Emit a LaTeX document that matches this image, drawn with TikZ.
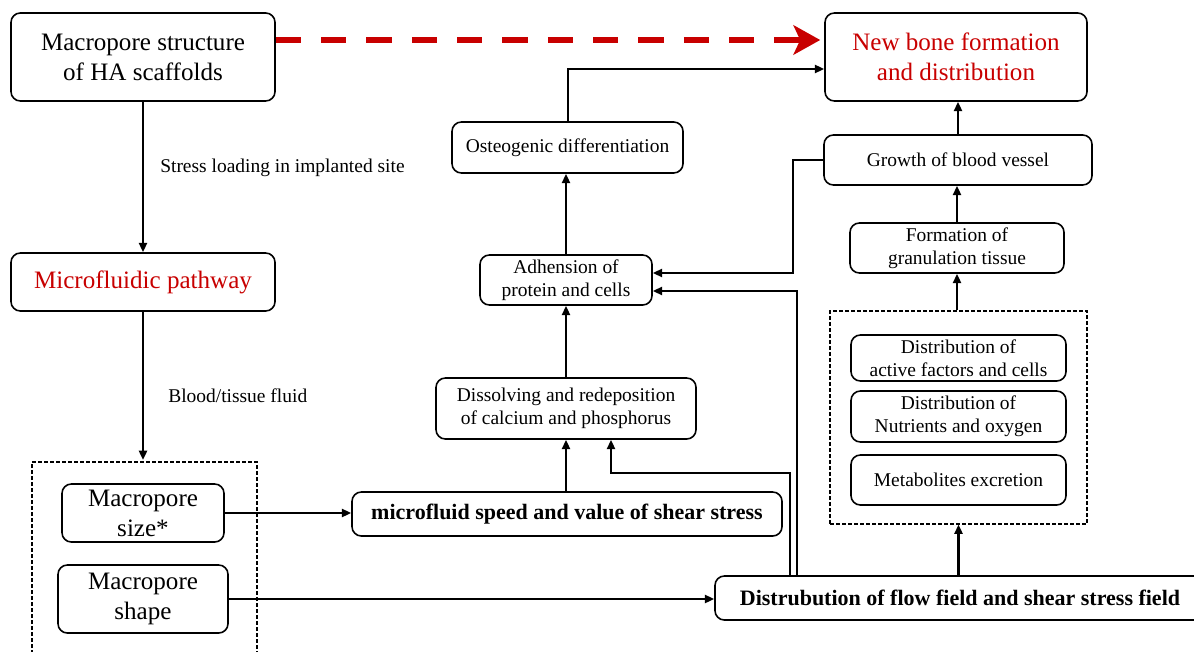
\documentclass[tikz,border=0pt]{standalone}
\usepackage{fontspec}
\setmainfont{Liberation Serif}
\usetikzlibrary{arrows.meta,calc}
\definecolor{dred}{RGB}{200,0,0}
\tikzset{
  box/.style={draw, line width=1.2pt, rounded corners=7pt, inner sep=0pt, align=center},
  bigtxt/.style={font=\fontsize{18.8}{22.5}\selectfont},
  smalltxt/.style={font=\fontsize{14.6}{17.5}\selectfont},
  boldtxt/.style={font=\fontsize{16.5}{19}\selectfont\bfseries},
  arr/.style={line width=2pt, -{Triangle[length=7pt,width=6pt]}},
  dbox/.style={draw, line width=0.8pt, dash pattern=on 3pt off 1.5pt},
  reddash/.style={draw=dred, line width=5pt, dash pattern=on 19pt off 15pt, -{Stealth[length=20pt,width=22pt,inset=5pt]}},
  lbl/.style={anchor=west, inner sep=0pt, font=\fontsize{14.6}{17.5}\selectfont}
}
\begin{document}
\begin{tikzpicture}[x=0.75pt,y=-0.75pt]
\useasboundingbox (0,0) rectangle (1194,652);
% left column
\node[box,bigtxt,minimum width=198pt,minimum height=66pt] (b1) at (143,57) {Macropore structure\\of HA scaffolds};
\node[box,bigtxt,text=dred,minimum width=198pt,minimum height=43.5pt] (mp) at (143,282) {Microfluidic pathway};
\draw[dbox] (32,660) -- (32,462) -- (257,462) -- (257,660);
\coordinate (ldtop) at (143,460);
\node[box,bigtxt,minimum width=121.5pt,minimum height=43.5pt] (ms) at (143,513) {Macropore\\size*};
\node[box,bigtxt,minimum width=127.5pt,minimum height=51pt] (msh) at (143,599) {Macropore\\shape};
\node[lbl] (l1) at (160,168) {Stress loading in implanted site};
\node[lbl] (l2) at (168,396) {Blood/tissue fluid};
% middle column
\node[box,boldtxt,minimum width=322.5pt,minimum height=33pt] (mf) at (567,514) {microfluid speed and value of shear stress};
\node[box,smalltxt,minimum width=195pt,minimum height=45.75pt] (dis) at (566,408.5) {Dissolving and redeposition\\of calcium and phosphorus};
\node[box,smalltxt,minimum width=129pt,minimum height=37.5pt] (adh) at (566,280) {Adhension of\\protein and cells};
\node[box,smalltxt,minimum width=173.25pt,minimum height=38.25pt] (ost) at (567.5,147.5) {Osteogenic differentiation};
% right column
\node[box,bigtxt,text=dred,minimum width=196.5pt,minimum height=66pt] (nb) at (956,57) {New bone formation\\and distribution};
\node[box,smalltxt,minimum width=201pt,minimum height=37.5pt] (gr) at (958,160) {Growth of blood vessel};
\node[box,smalltxt,minimum width=160.5pt,minimum height=37.5pt] (fg) at (957,248) {Formation of\\granulation tissue};
\node[dbox,minimum width=192.75pt,minimum height=159.75pt,inner sep=0pt] (rd) at (958.5,417.5) {};
\node[box,smalltxt,minimum width=161.25pt,minimum height=34.5pt] (d1) at (958.5,358) {Distribution of\\active factors and cells};
\node[box,smalltxt,minimum width=161.25pt,minimum height=38.25pt] (d2) at (958.5,416.5) {Distribution of\\Nutrients and oxygen};
\node[box,smalltxt,minimum width=161.25pt,minimum height=37.5pt] (d3) at (958.5,480) {Metabolites excretion};
\node[box,boldtxt,minimum width=367.5pt,minimum height=33pt] (ds) at (960,598) {Distrubution of flow field and shear stress field};
% bend points
\coordinate (c1) at (790,473);
\coordinate (c2) at (611,473);
\coordinate (c3) at (797,291);
\coordinate (c4) at (793,160);
\coordinate (c5) at (793,273);
\coordinate (c6) at (568,69);
% connectors
\draw[reddash] ([yshift=12.75pt]b1.east) -- ([yshift=12.75pt,xshift=-3pt]nb.west);
\draw[arr] (b1) -- (mp);
\draw[arr] (mp) -- (ldtop);
\draw[arr] (ms.east) -- (ms.east -| mf.west);
\draw[arr] (msh.east) -- (msh.east -| ds.west);
\draw[arr] (dis.south |- mf.north) -- (dis.south);
\draw[arr] (ds.north -| c1) -- (c1) -- (c2) -- (c2 |- dis.south);
\draw[arr] (ds.north -| c3) -- (c3) -- (c3 -| adh.east);
\draw[arr] (gr.west) -- (c4) -- (c5) -- (c5 -| adh.east);
\draw[arr] (dis.north) -- (adh.south);
\draw[arr] (adh.north) -- (adh.north |- ost.south);
\draw[arr] (ost.north -| c6) -- (c6) -- (c6 -| nb.west);
\draw[arr] (gr.north) -- (gr.north |- nb.south);
\draw[arr] (fg.north) -- (fg.north |- gr.south);
\draw[arr] (rd.north -| fg.north) -- (fg.south);
\draw[arr] (ds.north -| rd.south) -- (rd.south);
\end{tikzpicture}
\end{document}
